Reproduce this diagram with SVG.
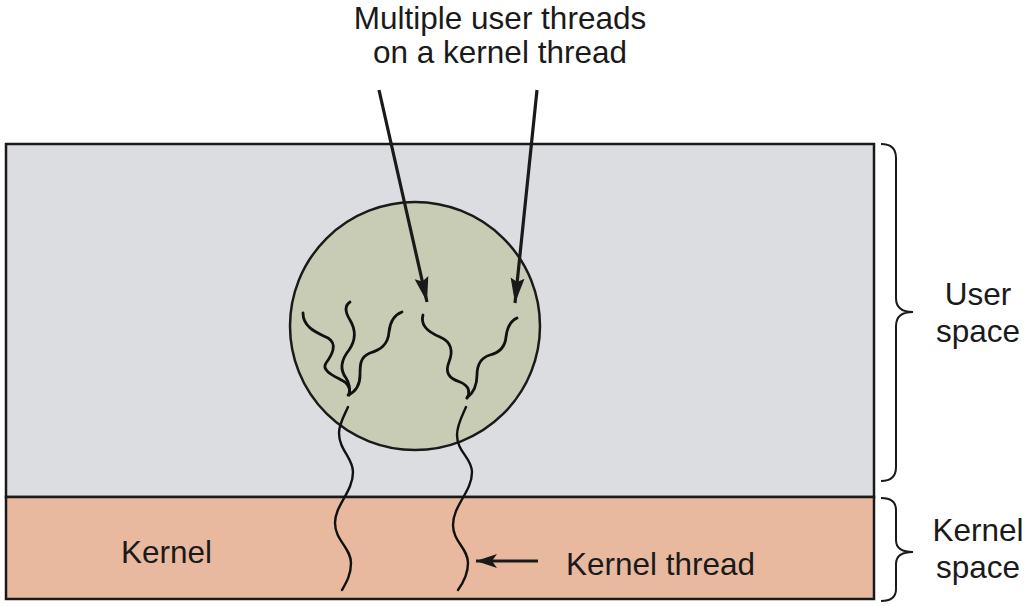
<svg xmlns="http://www.w3.org/2000/svg" width="1024" height="606" viewBox="0 0 1024 606">
  <style>
    .lbl { font-family: "Liberation Sans", Arial, Helvetica, sans-serif; font-size: 31.5px; fill: #1a1a1a; }
    .edge { stroke: #1a1a1a; stroke-width: 2.5; }
    .thread { fill: none; stroke: #111; stroke-width: 2.8; stroke-linecap: round; }
    .kthread { fill: none; stroke: #111; stroke-width: 2.4; stroke-linecap: round; }
    .arrow { fill: none; stroke: #1a1a1a; stroke-width: 3.2; }
    .brace { fill: none; stroke: #1a1a1a; stroke-width: 2; }
  </style>
  <defs>
    <marker id="head" markerUnits="userSpaceOnUse" markerWidth="26" markerHeight="16" refX="25" refY="7" orient="auto" viewBox="0 0 26 14">
      <path d="M0,0 L25,7 L0,14 L4,7 z" fill="#1a1a1a"/>
    </marker>
    <marker id="headS" markerUnits="userSpaceOnUse" markerWidth="22" markerHeight="14" refX="21" refY="7" orient="auto" viewBox="0 0 22 14">
      <path d="M0,0 L21,7 L0,14 L5,7 z" fill="#1a1a1a"/>
    </marker>
  </defs>

  <rect width="1024" height="606" fill="#ffffff"/>

  <g id="user-space">
    <rect x="6" y="144" width="868" height="353" class="edge" style="fill:#dcdde0"/>
  </g>
  <g id="kernel-space">
    <rect x="6" y="497" width="868" height="102" class="edge" style="fill:#e8b99e"/>
    <text class="lbl" x="121" y="563">Kernel</text>
  </g>

  <g id="process">
    <ellipse cx="415" cy="326" rx="125" ry="124" class="edge" style="fill:#c9ccb5"/>
  </g>

  <g id="user-threads">
    <path class="thread" d="M303,313 C303,328 318,333 328,338 C338,344 332,355 326,363 C320,372 340,378 346,383 C350,387 350,392 349,395"/>
    <path class="thread" d="M350,302 C344,306 345,312 350,320 C356,330 356,340 349,350 C341,360 340,370 346,378 C350,384 350,390 349,395"/>
    <path class="thread" d="M402,312 C394,315 390,322 389,332 C388,345 380,350 370,353 C360,357 360,365 360,375 C360,386 355,392 348,395"/>
    <path class="thread" d="M423,315 C420,325 428,332 440,337 C452,342 453,352 449,362 C445,372 448,378 460,382 C470,386 470,393 467,398"/>
    <path class="thread" d="M517,318 C510,321 507,328 506,337 C505,348 498,353 490,355 C480,358 477,365 477,375 C477,387 472,394 467,398"/>
  </g>

  <g id="kernel-threads">
    <path class="kthread" d="M348,407 C344,416 339,424 339,433 C339,450 353,458 353,472 C353,492 335,505 335,523 C335,540 351,548 351,563 C351,575 346,583 342,590"/>
    <path class="kthread" d="M466,407 C462,416 457,425 457,435 C457,452 472,458 472,472 C472,492 453,505 453,525 C453,542 468,548 468,563 C468,575 463,583 458,590"/>
  </g>

  <g id="connectors">
    <line class="arrow" x1="379" y1="90" x2="427" y2="302" marker-end="url(#head)"/>
    <line class="arrow" x1="537" y1="90" x2="515" y2="303" marker-end="url(#head)"/>
    <line class="arrow" x1="538" y1="561" x2="476" y2="561" marker-end="url(#headS)"/>
  </g>

  <g id="labels">
    <text class="lbl" x="500" y="29" text-anchor="middle">Multiple user threads</text>
    <text class="lbl" x="500" y="63" text-anchor="middle">on a kernel thread</text>
    <text class="lbl" x="566" y="575">Kernel thread</text>
  </g>

  <g id="user-brace">
    <path class="brace" d="M881,144 Q896,144 896,158 L896,298 Q896,312 913,312 Q896,312 896,326 L896,467 Q896,481 881,481"/>
    <text class="lbl" x="978" y="305" text-anchor="middle">User</text>
    <text class="lbl" x="978" y="342" text-anchor="middle">space</text>
  </g>
  <g id="kernel-brace">
    <path class="brace" d="M881,498 Q896,498 896,510 L896,540 Q896,552 913,552 Q896,552 896,564 L896,589 Q896,601 881,601"/>
    <text class="lbl" x="978" y="541" text-anchor="middle">Kernel</text>
    <text class="lbl" x="978" y="578" text-anchor="middle">space</text>
  </g>
</svg>
